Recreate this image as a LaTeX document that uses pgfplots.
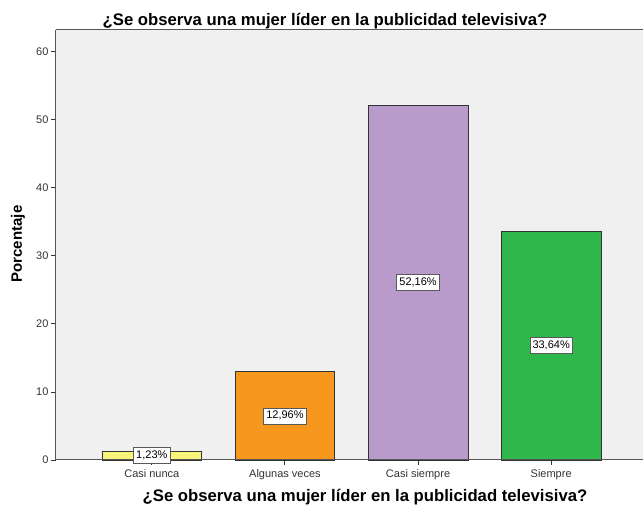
\documentclass[border=0pt]{standalone}
\usepackage{pgfplots}
\pgfplotsset{compat=1.18}
\usepackage{fontspec}
\setmainfont{Liberation Sans}
\definecolor{bg}{RGB}{240,240,240}
\definecolor{axc}{RGB}{85,85,85}
\definecolor{cY}{RGB}{248,245,122}
\definecolor{cO}{RGB}{247,152,30}
\definecolor{cP}{RGB}{184,155,202}
\definecolor{cG}{RGB}{46,184,76}
\begin{document}
\begin{tikzpicture}
\begin{axis}[
  scale only axis,
  width=587pt, height=430pt,
  xmin=-0.72, xmax=3.69,
  ymin=0, ymax=63.2,
  axis lines*=left,
  axis line style={draw=axc, line width=1pt},
  axis background/.style={fill=bg},
  xtick={0,1,2,3},
  xticklabels={Casi nunca, Algunas veces, Casi siempre, Siempre},
  ytick={0,10,20,30,40,50,60},
  tick align=outside,
  major tick length=5pt,
  tick style={draw=black!80, line width=0.9pt},
  ticklabel style={font=\fontsize{11}{13}\selectfont, text=black!80},
  xticklabel style={yshift=-0.5pt},
  yticklabel style={xshift=1pt},
  /pgf/number format/assume math mode=true,
  clip=false,
]
\coordinate (bl) at (rel axis cs:0,0);
\coordinate (tr) at (rel axis cs:1,1);
\draw[axc, line width=1pt] (rel axis cs:0,1) -- (rel axis cs:1,1);
\addplot[ybar, bar width=0.75, fill=cY, draw=black!80, line width=0.8pt] coordinates {(0,1.23)};
\addplot[ybar, bar width=0.75, fill=cO, draw=black!80, line width=0.8pt] coordinates {(1,12.96)};
\addplot[ybar, bar width=0.75, fill=cP, draw=black!80, line width=0.8pt] coordinates {(2,52.16)};
\addplot[ybar, bar width=0.75, fill=cG, draw=black!80, line width=0.8pt] coordinates {(3,33.64)};
\draw[axc, line width=1pt] (rel axis cs:0,0) -- (rel axis cs:1,0);
\addplot[draw=none, mark=none, point meta=explicit symbolic,
  nodes near coords,
  every node near coord/.style={anchor=center, fill=white, draw=black!65, line width=0.8pt,
    inner xsep=2.5pt, inner ysep=3pt, text height=8pt, text depth=2pt, font=\fontsize{11}{13}\selectfont}]
  coordinates {(0,0.615)[1,23\%] (1,6.48)[12,96\%] (2,26.08)[52,16\%] (3,16.82)[33,64\%]};
\node[anchor=base, font=\fontsize{16.7}{19}\bfseries\selectfont] at ([xshift=-24.5pt, yshift=4pt]rel axis cs:0.5,1)
  {¿Se observa una mujer líder en la publicidad televisiva?};
\node[anchor=base, font=\fontsize{16.7}{19}\bfseries\selectfont] at ([xshift=15.5pt, yshift=-42pt]rel axis cs:0.5,0)
  {¿Se observa una mujer líder en la publicidad televisiva?};
\node[rotate=90, anchor=center, font=\fontsize{15}{17}\bfseries\selectfont] at ([xshift=-38pt, yshift=1pt]rel axis cs:0,0.5)
  {Porcentaje};
\end{axis}
\pgfresetboundingbox
\path (bl) ++(-56pt,-51pt) coordinate (A);
\path (tr) ++(0pt,30pt) coordinate (B);
\path[use as bounding box] (A) rectangle (B);
\end{tikzpicture}
\end{document}
